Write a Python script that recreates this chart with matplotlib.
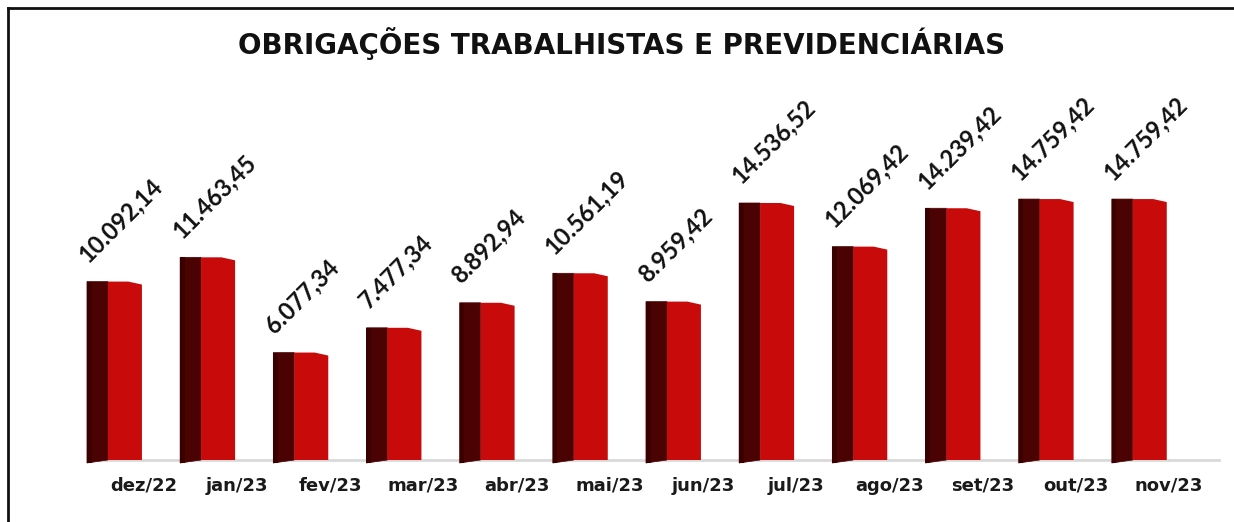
import matplotlib
matplotlib.use("Agg")
import matplotlib.pyplot as plt
from matplotlib.lines import Line2D
from matplotlib.patches import Rectangle, Polygon

categories = ["dez/22", "jan/23", "fev/23", "mar/23", "abr/23", "mai/23",
              "jun/23", "jul/23", "ago/23", "set/23", "out/23", "nov/23"]
values = [10092.14, 11463.45, 6077.34, 7477.34, 8892.94, 10561.19,
          8959.42, 14536.52, 12069.42, 14239.42, 14759.42, 14759.42]
labels = ["10.092,14", "11.463,45", "6.077,34", "7.477,34", "8.892,94", "10.561,19",
          "8.959,42", "14.536,52", "12.069,42", "14.239,42", "14.759,42", "14.759,42"]
title = "OBRIGAÇÕES TRABALHISTAS E PREVIDENCIÁRIAS"

W, H = 1234, 522
fig = plt.figure(figsize=(W / 100, H / 100), dpi=100)
plt.rcParams['font.family'] = ['DejaVu Sans']

left_px, right_px = 97.4, 1215.4
base_px, top_px = 460, 100
ax = fig.add_axes([left_px / W, 1 - base_px / H, (right_px - left_px) / W, (base_px - top_px) / H])
px_per_unit = 0.01768
ax.set_xlim(-0.5, len(categories) - 0.5)
ax.set_ylim(0, (base_px - top_px) / px_per_unit)
for s in ax.spines.values():
    s.set_visible(False)
ax.set_yticks([])
ax.set_xticks(range(len(categories)))
ax.set_xticklabels(categories, fontsize=13, fontweight='bold', color='#1a1a1a')
ax.tick_params(axis='x', length=0, pad=12)

ax.axhline(0, xmin=0, xmax=1.003, color='#d9d9d9', lw=2, clip_on=False, zorder=1)

dark_w, red_w = 0.225, 0.365
offset = -0.317
ppx = 1 / px_per_unit
for i, v in enumerate(values):
    x0 = i + offset - (dark_w + red_w) / 2
    xm = x0 + dark_w
    x1 = xm + red_w
    ax.add_patch(Polygon([(x0, -3 * ppx), (xm, 0), (xm, v), (x0, v)], closed=True,
                         facecolor='#4a0202', edgecolor='#4a0202', lw=0.5, zorder=2, clip_on=False))
    ax.add_patch(Rectangle((x0, -3 * ppx), 0.05, v + 3 * ppx, facecolor='#3a0000',
                           edgecolor='none', zorder=2, clip_on=False))
    ax.add_patch(Polygon([(xm, 0), (x1, 0), (x1, v - 3 * ppx), (xm + red_w * 0.6, v), (xm, v)],
                         closed=True, facecolor='#c80a0a', edgecolor='none', zorder=3, clip_on=False))
    ax.annotate(labels[i], xy=(x0, v), xytext=(1, 13), textcoords='offset points',
                rotation=45, rotation_mode='anchor', ha='left', va='baseline',
                fontsize=17, fontweight='bold', color='#111111', annotation_clip=False,
                family=['Lato', 'DejaVu Sans'])

fig.text(622 / W, 1 - 44 / H, title, ha='center', va='center', fontsize=20,
         fontweight='bold', color='#111111')

fig.add_artist(Line2D([8 / W, 8 / W], [0, 1 - 8 / H], color='#111111', lw=2))
fig.add_artist(Line2D([8 / W, 1], [1 - 8 / H, 1 - 8 / H], color='#111111', lw=2))

fig.savefig("out.png", dpi=100)
